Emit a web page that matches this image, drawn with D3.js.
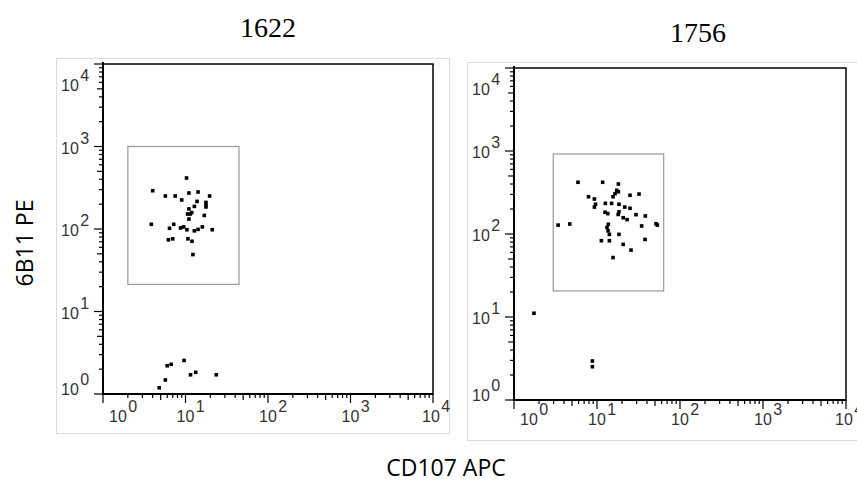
<!DOCTYPE html>
<html>
<head>
<meta charset="utf-8">
<script src="https://cdn.jsdelivr.net/npm/d3@7"></script>
<style>
  body { margin: 0; background: #fff; }
  svg { display: block; }
</style>
</head>
<body>
<svg id="chart"></svg>
<script>
// sample names and axis labels
const sampleTitles = ["1622", "1756"];
const xAxisTitle = "CD107 APC";
const yAxisTitle = "6B11 PE";
const decadeExponents = [0, 1, 2, 3, 4];

// events (CD107 APC, 6B11 PE)
const cd107_1622 = [10.3, 4.0, 5.7, 7.5, 11.0, 14.2, 19.6, 9.0, 13.8, 17.7, 17.7, 17.7, 12.8, 11.0, 11.9, 10.6, 11.4, 16.9, 11.0,
    3.85, 7.2, 6.4, 8.7, 9.5, 10.4, 12.8, 14.2, 16.0, 21.1, 6.2, 7.0, 10.7, 12.0, 12.3,
    4.8, 5.7, 6.0, 6.7, 9.6, 11.5, 13.3, 23.6];
const pe_1622 = [415, 291, 251, 251, 273, 281, 251, 225, 216, 210, 193, 185, 188, 175, 158, 152, 152, 146, 132,
    114, 114, 102, 103, 106, 98, 95, 99, 106, 98, 74, 76, 76, 71, 49,
    1.19, 1.48, 2.2, 2.29, 2.55, 1.71, 1.83, 1.71];

const cd107_1756 = [5.9, 11.7, 18.1, 17.3, 18.1, 16.5, 15.6, 7.9, 9.3, 9.6, 9.3, 25.0, 32.1, 12.6, 15.0, 18.4, 21.6, 25.0,
    18.4, 18.0, 12.5, 13.5, 20.7, 23.0, 29.5, 38.2, 3.4, 4.7, 13.7, 13.2, 13.6, 14.1, 18.4, 34.5, 51.4, 53.3,
    11.3, 14.1, 20.7, 37.9, 25.7, 15.6, 1.74, 8.8, 8.8];
const pe_1756 = [420, 420, 400, 336, 323, 306, 281, 281, 264, 228, 211, 293, 303, 234, 234, 228, 211, 204,
    185, 172, 183, 176, 157, 149, 171, 165, 128, 132, 131, 120, 109, 99, 99, 125, 133, 128,
    83, 83, 75, 86, 64, 52, 11.1, 2.95, 2.52];

// gate bounds [min, max]
const gateX_1622 = [2.0, 44.5];
const gateY_1622 = [21.3, 1000];
const gateX_1756 = [2.97, 63.6];
const gateY_1756 = [20.6, 920];

const width = 857, height = 484;
const svg = d3.select("#chart").attr("width", width).attr("height", height);

const panels = [
    { title: sampleTitles[0], xs: cd107_1622, ys: pe_1622, gx: gateX_1622, gy: gateY_1622,
      left: 103, right: 433, top: 64, bottom: 394, box: [56, 58, 449, 433], titleX: 268, titleY: 37, xLabelDy: 28 },
    { title: sampleTitles[1], xs: cd107_1756, ys: pe_1756, gx: gateX_1756, gy: gateY_1756,
      left: 514, right: 846, top: 68, bottom: 400, box: [467, 62, 880, 440], titleX: 698, titleY: 42, xLabelDy: 25 }
];

panels.forEach(p => {
    const g = svg.append("g");

    // light outer border
    g.append("rect")
        .attr("x", p.box[0] + 0.5).attr("y", p.box[1] + 0.5)
        .attr("width", p.box[2] - p.box[0]).attr("height", p.box[3] - p.box[1])
        .attr("fill", "none").attr("stroke", "#dcdcdc");

    const x = d3.scaleLog().domain([1, 1e4]).range([p.left, p.right]);
    const y = d3.scaleLog().domain([1, 1e4]).range([p.bottom, p.top]);

    // title
    g.append("text")
        .attr("x", p.titleX).attr("y", p.titleY)
        .attr("text-anchor", "middle")
        .attr("font-family", "Liberation Serif, Times New Roman, serif")
        .attr("font-size", 28)
        .text(p.title);

    // plot frame
    g.append("rect")
        .attr("x", x(1)).attr("y", y(1e4))
        .attr("width", x(1e4) - x(1)).attr("height", y(1) - y(1e4))
        .attr("fill", "none").attr("stroke", "#000").attr("stroke-width", 1.5);

    g.append("path")
        .attr("d", `M${x(1)},${y(1e4) - 2}V${y(1)}H${x(1e4)}`)
        .attr("fill", "none").attr("stroke", "#000").attr("stroke-width", 2);

    // log ticks
    const tickLen = v => {
        const lead = Math.round(v / Math.pow(10, Math.floor(Math.log10(v) + 1e-9)));
        return lead === 1 ? 9 : (lead === 5 ? 6 : 4);
    };
    const ticks = x.ticks();

    g.selectAll(".xtick").data(ticks).join("line")
        .attr("x1", d => x(d)).attr("x2", d => x(d))
        .attr("y1", y(1)).attr("y2", d => y(1) + tickLen(d))
        .attr("stroke", "#000").attr("stroke-width", 1.2);

    g.selectAll(".ytick").data(ticks).join("line")
        .attr("y1", d => y(d)).attr("y2", d => y(d))
        .attr("x1", x(1)).attr("x2", d => x(1) - tickLen(d))
        .attr("stroke", "#000").attr("stroke-width", 1.2);

    // decade labels (end labels pulled inward like the original)
    const font = "Liberation Sans, Arial, sans-serif";
    const xShift = e => e === 0 ? 15 : (e === 4 ? -2 : 0);
    const yShift = e => e === 4 ? 21 : (e === 0 ? -5 : 1);

    decadeExponents.forEach(e => {
        const v = Math.pow(10, e);
        const tx = g.append("text")
            .attr("x", x(v) - 9 + xShift(e)).attr("y", y(1) + p.xLabelDy)
            .attr("font-family", font).attr("font-size", 16).attr("fill", "#333");
        tx.append("tspan").text("10");
        tx.append("tspan").attr("dx", 1.5).attr("dy", -10).text(e);

        const ty = g.append("text")
            .attr("x", x(1) - 42).attr("y", y(v) + 6 + yShift(e))
            .attr("font-family", font).attr("font-size", 16).attr("fill", "#333");
        ty.append("tspan").text("10");
        ty.append("tspan").attr("dx", 1.5).attr("dy", -10).text(e);
    });

    // gate
    g.append("rect")
        .attr("x", x(p.gx[0])).attr("y", y(p.gy[1]))
        .attr("width", x(p.gx[1]) - x(p.gx[0]))
        .attr("height", y(p.gy[0]) - y(p.gy[1]))
        .attr("fill", "none").attr("stroke", "#999").attr("stroke-width", 1.2);

    // events
    const pts = p.xs.map((v, i) => [v, p.ys[i]]);
    g.selectAll(".dot").data(pts).join("rect")
        .attr("x", d => x(d[0]) - 1.8).attr("y", d => y(d[1]) - 1.8)
        .attr("width", 3.6).attr("height", 3.6)
        .attr("fill", "#000");
});

// shared axis titles
svg.append("text")
    .attr("x", 446).attr("y", 476)
    .attr("text-anchor", "middle")
    .attr("font-family", "Open Sans, sans-serif")
    .attr("font-size", 23)
    .text(xAxisTitle);

svg.append("text")
    .attr("transform", "translate(33,243) rotate(-90)")
    .attr("text-anchor", "middle")
    .attr("font-family", "Open Sans, sans-serif")
    .attr("font-size", 23)
    .text(yAxisTitle);
</script>
</body>
</html>
